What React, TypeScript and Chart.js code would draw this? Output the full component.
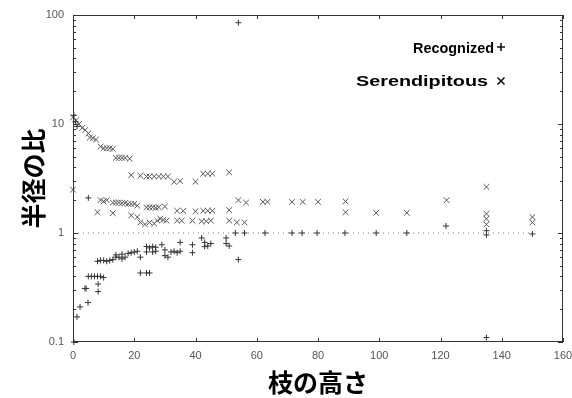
import React, { useEffect, useRef } from 'react';
import { Chart, registerables } from 'chart.js';

Chart.register(...registerables);

// Axis ticks
const xTicks = [0, 20, 40, 60, 80, 100, 120, 140, 160];
const yTickLabels = [0.1, 1, 10, 100];

// Recognized (+)
const recognizedX = [0.3, 1.3, 2.3, 3.9, 4.3, 4.9, 5, 6, 7, 8, 9, 10, 8.2, 8.2, 8, 9, 10, 11, 12, 13, 14, 15, 16, 17, 14, 16, 18, 19, 20, 22, 21, 24, 25, 26, 27, 24, 26, 27, 22, 24, 25, 29, 30, 30, 31, 32, 33, 34, 35, 35, 39, 39, 42, 43, 44, 45, 43, 50, 50, 51, 54, 53, 56, 54, 62.7, 71.5, 74.8, 79.7, 88.8, 99, 109, 121.8, 135, 135, 150, 135, 0.3, 0.8, 1.3, 5];
const recognizedY = [0.1, 0.17, 0.21, 0.31, 0.31, 0.23, 0.4, 0.4, 0.4, 0.4, 0.4, 0.39, 0.34, 0.29, 0.55, 0.56, 0.56, 0.55, 0.56, 0.57, 0.6, 0.6, 0.58, 0.6, 0.63, 0.64, 0.65, 0.66, 0.67, 0.6, 0.68, 0.75, 0.73, 0.75, 0.74, 0.67, 0.67, 0.68, 0.43, 0.43, 0.43, 0.78, 0.7, 0.62, 0.6, 0.67, 0.68, 0.66, 0.68, 0.82, 0.78, 0.66, 0.9, 0.82, 0.76, 0.8, 0.75, 0.9, 0.8, 0.76, 0.57, 1.0, 1.0, 85, 1, 1, 1, 1, 1, 1, 1, 1.16, 1.05, 0.96, 0.98, 0.11, 12, 10.5, 9.5, 2.1];

// Serendipitous (x)
const serendipX = [
  0, 1, 2, 3, 4, 5, 5.5, 6.5, 7.5, 9, 10, 11, 12, 13, 14, 15, 16, 17, 18.5,
  19, 22, 24, 25, 26.5, 28, 29.5, 31, 33, 35, 40, 42.5, 44, 45.5, 51,
  0, 9, 10, 11, 13, 14, 15, 16, 17, 18, 19, 20, 21, 24, 25, 26, 27, 28, 30, 34, 36, 40, 42.5, 44, 45.5, 51, 54, 56.5,
  8, 13, 19, 21, 22, 23.5, 25, 26.5, 27.5, 28.5, 29.5, 30.5, 34, 35.5, 39, 42, 43.5, 45, 51, 53.5, 56,
  62, 63.5, 71.5, 75, 80, 89, 89, 99, 109, 122, 135, 135, 135, 135, 150, 150,
];
const serendipY = [
  11.5, 10.8, 10, 9.2, 8.8, 8.2, 7.5, 7.4, 7.2, 6.2, 6, 6, 6, 5.9, 4.9, 4.9, 4.9, 4.9, 4.8,
  3.4, 3.35, 3.3, 3.3, 3.3, 3.3, 3.3, 3.3, 2.95, 3.0, 2.95, 3.5, 3.5, 3.5, 3.6,
  2.5, 2.0, 1.95, 2.0, 1.9, 1.9, 1.9, 1.88, 1.88, 1.85, 1.85, 1.85, 1.78, 1.72, 1.72, 1.72, 1.7, 1.72, 1.75, 1.6, 1.6, 1.58, 1.6, 1.6, 1.6, 1.62, 2.0, 1.9,
  1.55, 1.52, 1.45, 1.4, 1.25, 1.2, 1.25, 1.22, 1.3, 1.35, 1.32, 1.3, 1.3, 1.3, 1.3, 1.28, 1.28, 1.3, 1.3, 1.25, 1.25,
  1.93, 1.93, 1.93, 1.93, 1.93, 1.95, 1.55, 1.53, 1.53, 2.0, 2.65, 1.5, 1.35, 1.2, 1.4, 1.25,
];

// Reference line at ratio 1
const refLineX = [0, 150];
const refLineY = [1, 1];

const legendLabels = ['Recognized', 'Serendipitous'];
const xTitle = '枝の高さ';
const yTitle = '半径の比';

const zip = (xs: number[], ys: number[]) => xs.map((x, i) => ({ x, y: ys[i] }));

const framePlugin = {
  id: 'frame',
  afterDraw(chart: any) {
    const { ctx, chartArea: a, scales } = chart;
    const xs = scales.x;
    const ys = scales.y;
    ctx.save();
    ctx.strokeStyle = '#333';
    ctx.lineWidth = 1;
    ctx.strokeRect(a.left + 0.5, a.top + 0.5, a.right - a.left - 1, a.bottom - a.top - 1);
    ctx.beginPath();
    for (const v of xTicks) {
      const px = Math.round(xs.getPixelForValue(v)) + 0.5;
      ctx.moveTo(px, a.bottom);
      ctx.lineTo(px, a.bottom - 4);
      ctx.moveTo(px, a.top);
      ctx.lineTo(px, a.top + 4);
    }
    for (let d = -1; d < 2; d++) {
      for (let m = 1; m < 10; m++) {
        const v = m * Math.pow(10, d);
        const py = Math.round(ys.getPixelForValue(v)) + 0.5;
        const len = m === 1 ? 5 : 3;
        ctx.moveTo(a.left, py);
        ctx.lineTo(a.left + len, py);
        ctx.moveTo(a.right, py);
        ctx.lineTo(a.right - len, py);
      }
    }
    ctx.stroke();

    // legend
    ctx.fillStyle = '#000';
    ctx.font = 'bold 15px "Liberation Sans", Arial, sans-serif';
    ctx.textBaseline = 'alphabetic';
    const rows = [
      { text: legendLabels[0], x0: 413, x1: 494, base: 53 },
      { text: legendLabels[1], x0: 356, x1: 488, base: 86 },
    ];
    for (const r of rows) {
      const w = ctx.measureText(r.text).width;
      ctx.save();
      ctx.translate(r.x0, r.base);
      ctx.scale((r.x1 - r.x0) / w, 1);
      ctx.fillText(r.text, 0, 0);
      ctx.restore();
    }
    ctx.strokeStyle = '#111';
    ctx.lineWidth = 1.6;
    ctx.beginPath();
    // plus marker
    ctx.moveTo(497, 47);
    ctx.lineTo(505, 47);
    ctx.moveTo(501, 43);
    ctx.lineTo(501, 51);
    // cross marker
    ctx.moveTo(497.5, 77.5);
    ctx.lineTo(504.5, 84.5);
    ctx.moveTo(504.5, 77.5);
    ctx.lineTo(497.5, 84.5);
    ctx.stroke();
    ctx.restore();
  },
};

export default function App() {
  const ref = useRef<HTMLCanvasElement | null>(null);
  useEffect(() => {
    document.body.style.margin = '0';
    if (!ref.current) return;
    const chart = new Chart(ref.current, {
      type: 'scatter',
      data: {
        datasets: [
          {
            label: 'ref',
            data: zip(refLineX, refLineY),
            showLine: true,
            borderColor: '#777',
            borderWidth: 1,
            borderDash: [1, 4],
            pointRadius: 0,
          },
          {
            label: legendLabels[0],
            data: zip(recognizedX, recognizedY),
            pointStyle: 'cross',
            pointRadius: 3,
            borderColor: '#333',
            backgroundColor: '#333',
            borderWidth: 1,
            clip: false,
          },
          {
            label: legendLabels[1],
            data: zip(serendipX, serendipY),
            pointStyle: 'crossRot',
            pointRadius: 4,
            borderColor: '#555',
            backgroundColor: '#555',
            borderWidth: 1,
            clip: false,
          },
        ],
      },
      options: {
        animation: false,
        responsive: false,
        devicePixelRatio: 1,
        layout: { padding: { top: 15, right: 9, left: 0, bottom: 0 } },
        plugins: { legend: { display: false }, tooltip: { enabled: false } },
        scales: {
          x: {
            type: 'linear',
            min: 0,
            max: 160,
            grid: { display: false, drawTicks: false },
            border: { display: false },
            afterBuildTicks: (s: any) => {
              s.ticks = xTicks.map((v) => ({ value: v }));
            },
            ticks: {
              autoSkip: false,
              maxRotation: 0,
              padding: 7,
              color: '#555',
              font: { family: '"Liberation Sans", Arial, sans-serif', size: 11 },
              callback: (v: any) => String(v),
            },
            title: {
              display: true,
              text: xTitle,
              color: '#000',
              font: { family: '"Noto Sans CJK JP", sans-serif', size: 25, weight: 'bold' },
              padding: { top: 0, bottom: 1 },
            },
            afterFit: (s: any) => {
              s.height = 56;
              s.paddingLeft = 0;
              s.paddingRight = 0;
            },
          },
          y: {
            type: 'logarithmic',
            min: 0.1,
            max: 100,
            grid: { display: false, drawTicks: false },
            border: { display: false },
            afterBuildTicks: (s: any) => {
              s.ticks = yTickLabels.map((v) => ({ value: v }));
            },
            ticks: {
              autoSkip: false,
              padding: 9,
              color: '#555',
              font: { family: '"Liberation Sans", Arial, sans-serif', size: 11 },
              callback: (v: any) => String(v),
            },
            title: {
              display: true,
              text: yTitle,
              color: '#000',
              font: { family: '"Noto Sans CJK JP", sans-serif', size: 25, weight: 'bold' },
              padding: { top: 18, bottom: 0 },
            },
            afterFit: (s: any) => {
              s.width = 73;
              s.paddingTop = 0;
              s.paddingBottom = 0;
            },
          },
        },
      },
      plugins: [framePlugin],
    } as any);
    return () => chart.destroy();
  }, []);
  return (
    <div style={{ width: 572, height: 398 }}>
      <canvas ref={ref} width={572} height={398} style={{ display: 'block' }} />
    </div>
  );
}
